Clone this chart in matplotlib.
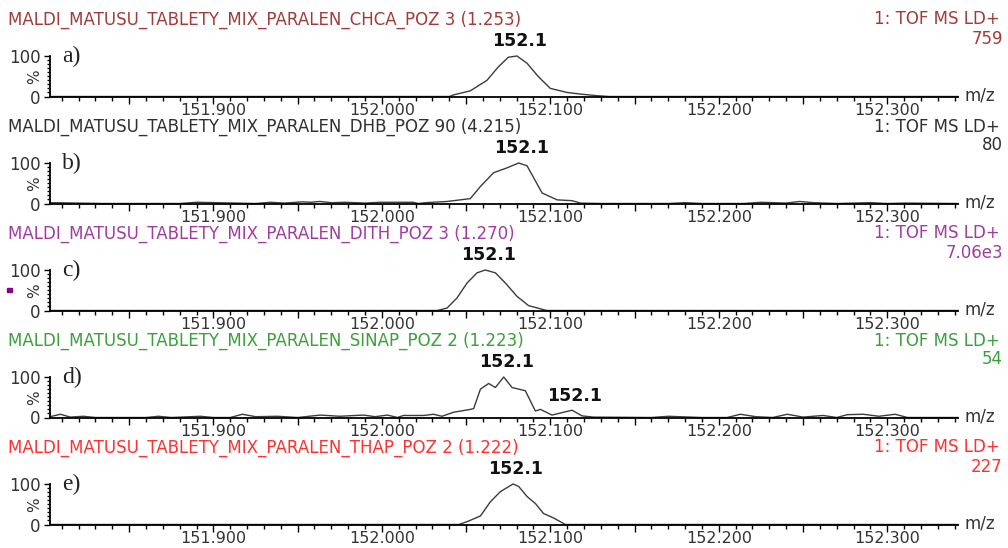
import matplotlib
matplotlib.use('Agg')
import matplotlib.pyplot as plt
from matplotlib.patches import Rectangle
from matplotlib.ticker import MultipleLocator, FuncFormatter

# Spectra, m/z vs relative intensity (%)
mz_a = [151.803, 152.040, 152.0426, 152.0525, 152.0624, 152.0691, 152.0751, 152.0802,
        152.0862, 152.0929, 152.1000, 152.1099, 152.1178, 152.1277, 152.135, 152.342]
int_a = [0, 0, 4, 14, 40, 73, 97, 100, 82, 49, 20, 10, 6, 2, 0, 0]

mz_b = [151.803, 151.82, 151.835, 151.85, 151.88, 151.89, 151.925, 151.934, 151.942,
        151.953, 151.958, 151.963, 151.970, 151.978, 151.99, 151.9991, 152.0187, 152.0217,
        152.0258, 152.0387, 152.0525, 152.0585, 152.0663, 152.0743, 152.0812, 152.0862,
        152.0951, 152.1040, 152.1129, 152.1178, 152.13, 152.17, 152.18, 152.19, 152.215,
        152.225, 152.24, 152.248, 152.256, 152.27, 152.29, 152.30, 152.31, 152.342]
int_b = [2, 1, 0, 0, 0, 3, 0, 3, 1, 4, 3, 5, 2, 3, 1, 3, 3, 0, 2, 5, 12, 42, 76, 88,
         100, 93, 26, 9, 7, 1, 0, 0, 2, 0, 0, 3, 1, 5, 2, 0, 2, 0, 1, 0]

mz_c = [151.803, 152.0328, 152.0387, 152.0446, 152.0506, 152.0565, 152.0614, 152.0674,
        152.0733, 152.0802, 152.0871, 152.0960, 152.0980, 152.342]
int_c = [0, 0, 6, 31, 68, 93, 100, 93, 68, 35, 12, 2, 0, 0]

mz_d = [151.803, 151.8092, 151.815, 151.8228, 151.83, 151.86, 151.8674, 151.875, 151.8923,
        151.90, 151.91, 151.9172, 151.925, 151.938, 151.95, 151.9635, 151.975, 151.989,
        151.996, 152.0033, 152.0092, 152.0128, 152.025, 152.0306, 152.0357, 152.0426,
        152.0525, 152.0545, 152.0585, 152.0634, 152.0674, 152.0723, 152.0773, 152.0852,
        152.0911, 152.0941, 152.1010, 152.1129, 152.1188, 152.1255, 152.16, 152.17, 152.19,
        152.205, 152.2128, 152.222, 152.232, 152.2407, 152.25, 152.262, 152.27, 152.2763,
        152.2858, 152.295, 152.3047, 152.312, 152.342]
int_d = [2, 8, 1, 3, 0, 0, 3, 0, 3, 0, 0, 8, 2, 3, 0, 6, 3, 6, 2, 6, 0, 5, 5, 8, 3, 13,
         20, 22, 70, 84, 74, 100, 74, 66, 16, 20, 6, 18, 4, 1, 0, 3, 0, 0, 8, 2, 0, 8, 1,
         5, 0, 7, 8, 3, 8, 0, 0]

mz_e = [151.803, 152.0456, 152.0506, 152.0585, 152.0644, 152.0703, 152.0779, 152.0812,
        152.0862, 152.0911, 152.0960, 152.1020, 152.1089, 152.342]
int_e = [0, 0, 7, 21, 56, 81, 100, 94, 69, 52, 27, 16, 0, 0]

spectra = [(mz_a, int_a), (mz_b, int_b), (mz_c, int_c), (mz_d, int_d), (mz_e, int_e)]

titles = [
    "MALDI_MATUSU_TABLETY_MIX_PARALEN_CHCA_POZ 3 (1.253)",
    "MALDI_MATUSU_TABLETY_MIX_PARALEN_DHB_POZ 90 (4.215)",
    "MALDI_MATUSU_TABLETY_MIX_PARALEN_DITH_POZ 3 (1.270)",
    "MALDI_MATUSU_TABLETY_MIX_PARALEN_SINAP_POZ 2 (1.223)",
    "MALDI_MATUSU_TABLETY_MIX_PARALEN_THAP_POZ 2 (1.222)",
]
scan_mode = "1: TOF MS LD+"
base_counts = ["759", "80", "7.06e3", "54", "227"]
panel_letters = ["a)", "b)", "c)", "d)", "e)"]
title_colors = ["#a33a3a", "#303030", "#a03ca0", "#3aa03a", "#ff3030"]

# labelled peaks per panel: (m/z, intensity, text)
peak_labels = [
    [(152.0802, 100, "152.1")],
    [(152.0812, 100, "152.1")],
    [(152.0614, 100, "152.1")],
    [(152.0723, 100, "152.1"), (152.1129, 18, "152.1")],
    [(152.0779, 100, "152.1")],
]

XMIN, XMAX = 151.803, 152.342

W, H = 1008, 548
fig = plt.figure(figsize=(W / 100, H / 100), dpi=100)
fig.patch.set_facecolor('white')


def fx(x):
    return x / W


def fy(y):
    return 1 - y / H


ax_left, ax_right = 50, 958
pitch = 107.0
for i, (mz, inten) in enumerate(spectra):
    base = 96.5 + pitch * i
    height = 40.5
    ax = fig.add_axes([fx(ax_left), fy(base), (ax_right - ax_left) / W, height / H])
    ax.plot(mz, inten, color='#3c3c3c', lw=1.0, clip_on=False)
    ax.set_xlim(XMIN, XMAX)
    ax.set_ylim(0, 100)
    ax.patch.set_alpha(0)
    for s in ('top', 'right'):
        ax.spines[s].set_visible(False)
    for s in ('left', 'bottom'):
        ax.spines[s].set_linewidth(1.3)
        ax.spines[s].set_color('black')

    ax.xaxis.set_major_locator(MultipleLocator(0.05))
    ax.xaxis.set_minor_locator(MultipleLocator(0.01))
    ax.xaxis.set_major_formatter(FuncFormatter(
        lambda v, p: f"{v:.3f}" if abs(round(v * 10) - v * 10) < 1e-6 else ""))
    ax.tick_params(axis='x', which='major', length=5, width=1, pad=-0.5,
                   labelsize=11.5, labelcolor='#333333')
    ax.tick_params(axis='x', which='minor', length=3, width=1)

    ax.set_yticks([0, 100])
    ax.set_yticklabels(["0", "100"])
    ax.yaxis.set_minor_locator(MultipleLocator(10))
    ax.tick_params(axis='y', which='major', length=4, width=1, pad=3,
                   labelsize=12, labelcolor='#333333')
    ax.tick_params(axis='y', which='minor', length=2.5, width=1)

    for pmz, pint, txt in peak_labels[i]:
        ax.annotate(txt, xy=(pmz, pint), xytext=(2, 4), textcoords='offset points',
                    ha='center', va='bottom', fontsize=12.5, fontweight='bold',
                    color='#111111', annotation_clip=False)

    fig.text(fx(8), fy(base - 77), titles[i], fontsize=12, color=title_colors[i],
             ha='left', va='center')
    fig.text(fx(1000), fy(base - 77), scan_mode, fontsize=12, color=title_colors[i],
             ha='right', va='center')
    fig.text(fx(1003), fy(base - 58), base_counts[i], fontsize=12, color=title_colors[i],
             ha='right', va='center')
    fig.text(fx(62), fy(base - 40), panel_letters[i], fontsize=17,
             family='Liberation Serif', color='#222222', ha='left', va='center')
    fig.text(fx(35), fy(base - 20), "%", fontsize=11, rotation=90,
             color='#333333', ha='center', va='center')
    fig.text(fx(964), fy(base - 1), "m/z", fontsize=12, color='#333333',
             ha='left', va='center')

# small marker left of panel c
fig.add_artist(Rectangle((fx(7), fy(96.5 + pitch * 2 - 19)), 5 / W, 4 / H,
                         transform=fig.transFigure, color='#8b008b'))

fig.savefig('out.png', dpi=100)
